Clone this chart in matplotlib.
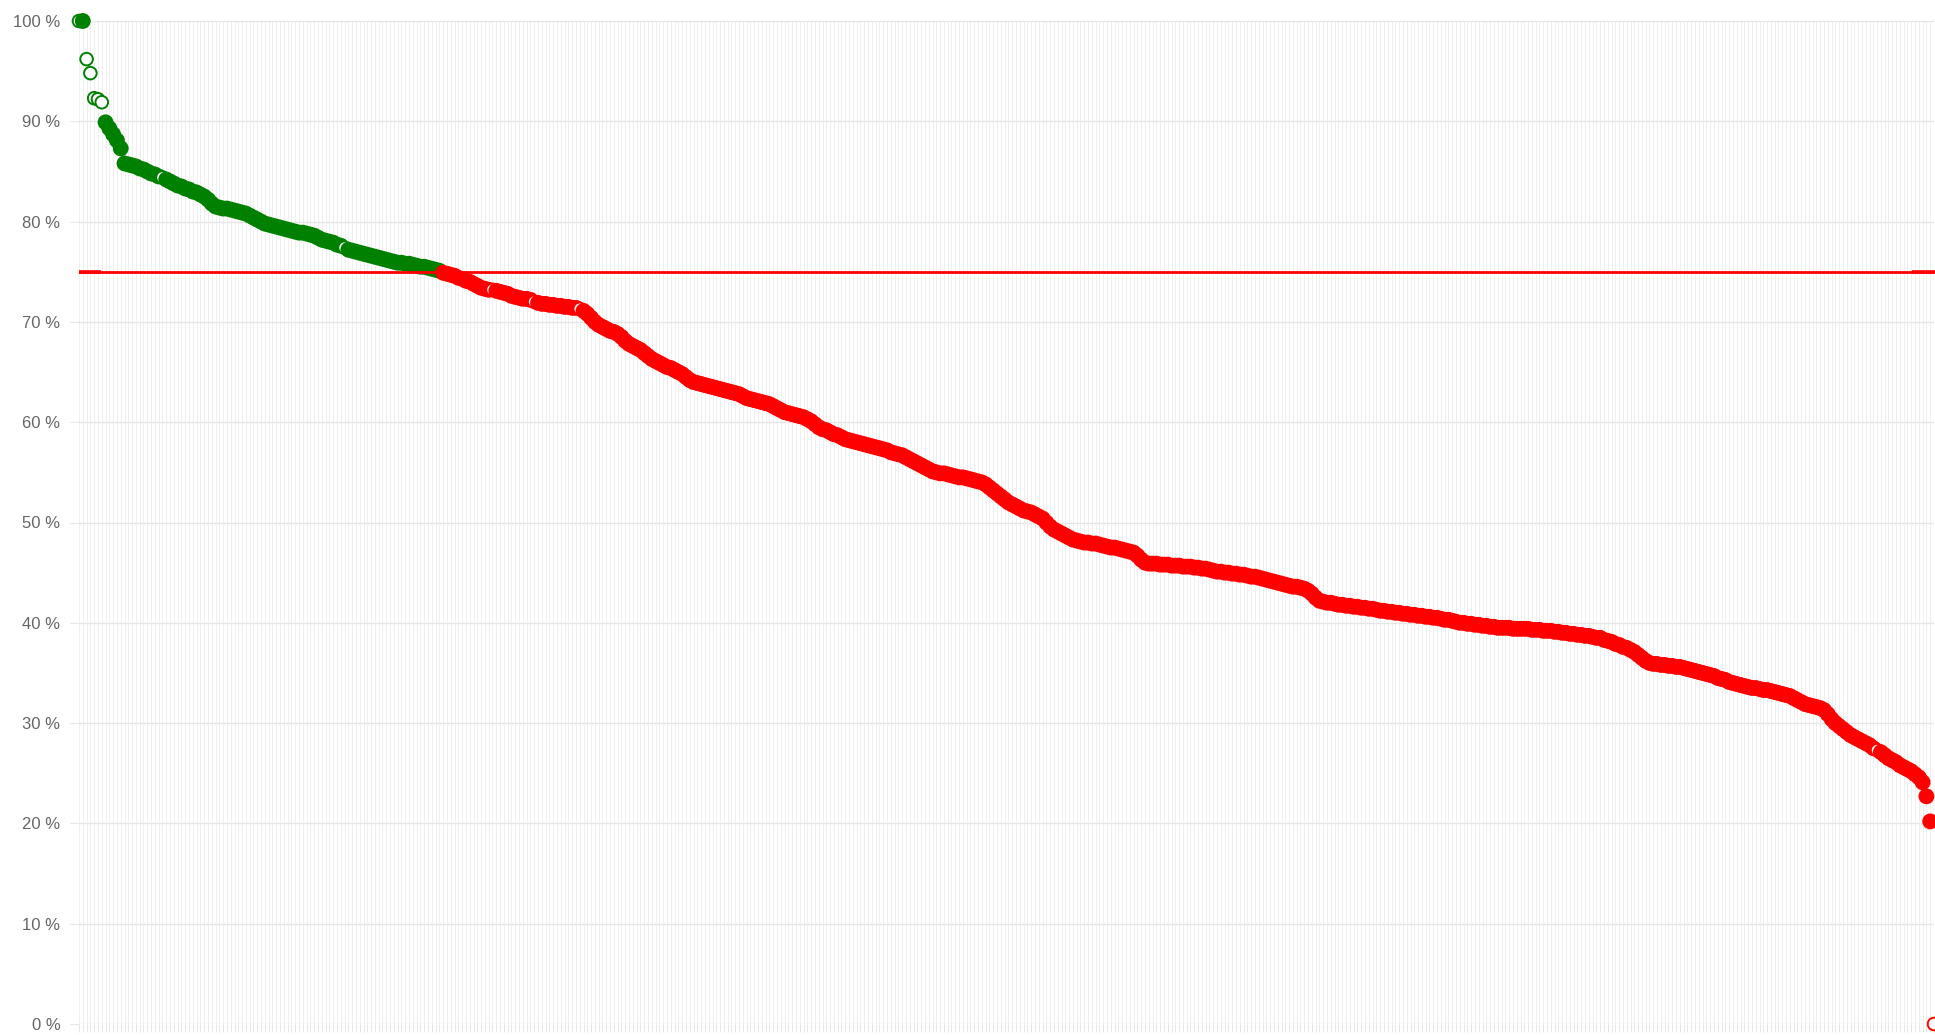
#!/usr/bin/env python3
# -*- coding: utf-8 -*-

import matplotlib
matplotlib.use("Agg")
import matplotlib.pyplot as plt

# porcentajes ordenados de mayor a menor (uno por categoria)
porcentajes = [
    100, 100, 96.2, 94.8, 92.3, 92.2, 91.9, 89.9, 89.3, 88.7, 88.1, 87.3, 85.8,
    85.7, 85.6, 85.5, 85.3, 85.2, 85.0, 84.8, 84.7, 84.5, 84.4, 84.2,
    84.0, 83.8, 83.6, 83.5, 83.3, 83.2, 83.0, 82.9, 82.7, 82.5, 82.2, 81.8, 81.5,
    81.4, 81.3, 81.3, 81.2, 81.1, 81.0, 80.9, 80.8,
    80.6, 80.4, 80.2, 80.0, 79.8, 79.7, 79.6, 79.5,
    79.4, 79.3, 79.2, 79.1, 79.0, 78.9, 78.9, 78.8,
    78.7, 78.6, 78.4, 78.2, 78.1, 78.0, 77.9, 77.7, 77.6, 77.4,
    77.2, 77.1, 77.0, 76.9, 76.8, 76.7, 76.6, 76.5, 76.4, 76.3, 76.2, 76.1, 76.0,
    75.9, 75.9, 75.8, 75.8, 75.7, 75.6, 75.5, 75.5, 75.4, 75.3, 75.2, 75.1,
    74.9, 74.8, 74.7, 74.6, 74.4, 74.3, 74.1, 74.0, 73.8, 73.6, 73.4, 73.3, 73.2, 73.2,
    73.1, 73.0, 72.9, 72.8, 72.6, 72.5, 72.4, 72.3, 72.3, 72.2,
    72.0, 71.9, 71.8, 71.8, 71.7, 71.7, 71.6, 71.6, 71.5, 71.5, 71.4, 71.4, 71.3,
    71.1, 70.8, 70.4, 70.0, 69.7, 69.5,
    69.3, 69.1, 69.0, 68.8, 68.5, 68.1, 67.8, 67.6, 67.4, 67.2,
    66.9, 66.6, 66.3, 66.1, 65.9,
    65.7, 65.5, 65.4, 65.2, 65.0, 64.8, 64.5, 64.2, 64.0, 63.9,
    63.8, 63.7, 63.6, 63.5, 63.4, 63.3, 63.2, 63.1, 63.0, 62.9, 62.8,
    62.6, 62.4, 62.3, 62.2, 62.1, 62.0,
    61.9, 61.8, 61.6, 61.4, 61.2, 61.0, 60.9,
    60.8, 60.7, 60.6, 60.5, 60.3, 60.1,
    59.8, 59.5, 59.3, 59.2, 59.0, 58.8, 58.7,
    58.5, 58.3, 58.2, 58.1, 58.0, 57.9,
    57.8, 57.7, 57.6, 57.5, 57.4, 57.3, 57.2,
    57.0, 56.9, 56.8, 56.7, 56.5, 56.3,
    56.1, 55.9, 55.7, 55.5, 55.3, 55.1, 55.0,
    54.9, 54.9, 54.8, 54.7, 54.6, 54.5, 54.5, 54.4, 54.3, 54.2, 54.1, 54.0, 53.8,
    53.5, 53.2, 52.9, 52.6, 52.3,
    52.0, 51.8, 51.6, 51.4, 51.2,
    51.1, 51.0, 50.8, 50.6, 50.4,
    50.0, 49.6, 49.3,
    49.1, 48.9, 48.7, 48.5, 48.3, 48.2, 48.1, 48.0,
    48.0, 47.9, 47.9, 47.8, 47.7, 47.6, 47.5, 47.5, 47.4, 47.3, 47.2, 47.1, 47.0,
    46.7, 46.3, 46.0,
    45.9, 45.9, 45.9, 45.8, 45.8, 45.8, 45.7, 45.7, 45.7, 45.6, 45.6, 45.6, 45.5, 45.5, 45.4, 45.4,
    45.3, 45.2, 45.1, 45.1, 45.0, 45.0, 44.9, 44.9, 44.8, 44.8,
    44.7, 44.6, 44.6, 44.5, 44.4, 44.3, 44.2, 44.1, 44.0, 43.9, 43.8, 43.7, 43.6, 43.6, 43.5, 43.4,
    43.2, 42.9, 42.5, 42.2,
    42.1, 42.0, 42.0, 41.9, 41.8, 41.8, 41.7, 41.7, 41.6, 41.6, 41.5, 41.5, 41.4, 41.4, 41.3, 41.2,
    41.2, 41.1, 41.1, 41.0, 41.0, 40.9, 40.9, 40.8, 40.8, 40.7, 40.7, 40.6, 40.6, 40.5, 40.5, 40.4, 40.3, 40.3, 40.2,
    40.1, 40.0, 40.0, 39.9, 39.9, 39.8, 39.8, 39.7, 39.7, 39.6, 39.6, 39.5, 39.5,
    39.5, 39.5, 39.4, 39.4, 39.4, 39.4, 39.4, 39.3, 39.3, 39.3, 39.2, 39.2, 39.2,
    39.1, 39.1, 39.0, 39.0, 38.9, 38.9, 38.8, 38.8, 38.7, 38.7, 38.6, 38.5, 38.5,
    38.3, 38.2, 38.1, 37.9, 37.8, 37.6, 37.5,
    37.3, 37.1, 36.8, 36.5, 36.2, 36.0,
    35.9, 35.9, 35.8, 35.8, 35.7, 35.7, 35.6, 35.6, 35.5, 35.4,
    35.3, 35.2, 35.1, 35.0, 34.9, 34.8, 34.7, 34.5, 34.4, 34.3,
    34.1, 34.0, 33.9, 33.8, 33.7, 33.6, 33.5,
    33.5, 33.4, 33.3, 33.3, 33.2, 33.1, 33.0, 32.9,
    32.8, 32.7, 32.5, 32.3, 32.1,
    31.9, 31.8, 31.7, 31.6, 31.5,
    31.3, 30.9, 30.4, 30.0, 29.7, 29.4,
    29.1, 28.8,
    28.6, 28.4, 28.2, 28.0, 27.8, 27.5, 27.3,
    27.1, 26.8, 26.5, 26.3, 26.1, 25.8,
    25.6, 25.4, 25.2, 24.9, 24.6,
    24.1, 22.7, 20.2, 0.0,
]

# puntos que se ven huecos (sin relleno)
huecos = [0, 2, 3, 4, 5, 6, 22, 70, 109, 120, 132, 474, 489]

umbral = 75  # linea objetivo
marcas_y = [0, 10, 20, 30, 40, 50, 60, 70, 80, 90, 100]

n = len(porcentajes)
x = list(range(n))

VERDE = '#008000'
ROJO = '#ff0000'

plt.rcParams['font.family'] = ['Liberation Sans', 'DejaVu Sans']

fig = plt.figure(figsize=(19.35, 10.35), dpi=100)
ax = fig.add_axes([79 / 1935, 11 / 1035, (1934 - 79) / 1935, 1003 / 1035])

# color de cada punto segun el umbral
bordes = [VERDE if v >= umbral else ROJO for v in porcentajes]
rellenos = ['white' if i in huecos else bordes[i] for i in range(n)]
tamanos = [82 if i in huecos else 100 for i in range(n)]

ax.scatter(x, porcentajes, s=tamanos, facecolors=rellenos, edgecolors=bordes,
           linewidths=1.4, zorder=2, clip_on=False)

# linea del umbral
ax.plot(x, [umbral] * n, color=ROJO, lw=2, zorder=3,
        marker='_', markevery=[0, n - 1], markersize=32, mew=2.6)

ax.set_xlim(0, n - 1)
ax.set_ylim(0, 100)

ax.set_yticks(marcas_y)
ax.set_yticklabels([f'{v} %' for v in marcas_y])
ax.set_xticks(x)
ax.set_xticklabels([])

ax.grid(axis='y', color='#e6e6e6', lw=1.0, zorder=0)
ax.grid(axis='x', color='#efefef', lw=0.7, zorder=0)
ax.set_axisbelow(True)

ax.tick_params(axis='y', length=6.5, width=0.8, color='#e6e6e6',
               labelcolor='#666666', labelsize=12, pad=7)
ax.tick_params(axis='x', length=6, width=0.6, color='#e2e2e2')

for lado in ['top', 'right', 'left', 'bottom']:
    ax.spines[lado].set_visible(False)

plt.savefig('out.png', dpi=100)
